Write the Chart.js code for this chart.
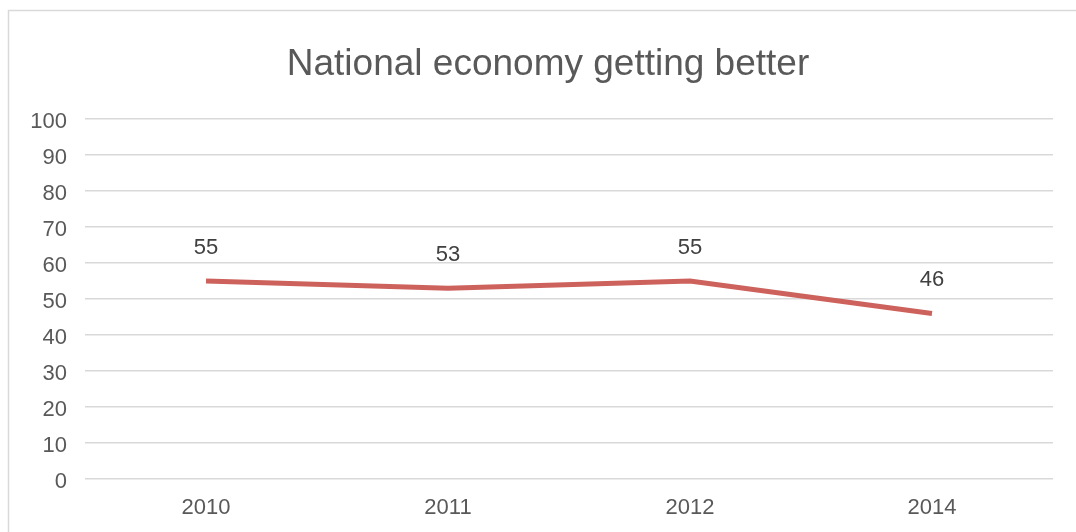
<!DOCTYPE html>
<html>
<head>
<meta charset="utf-8">
<title>National economy getting better</title>
<script src="https://cdn.jsdelivr.net/npm/chart.js@4/dist/chart.umd.min.js"></script>
<style>
  html, body { margin: 0; padding: 0; background: #ffffff; }
  #wrap { width: 1076px; height: 532px; position: relative; overflow: hidden; }
  canvas { display: block; }
</style>
</head>
<body>
<div id="wrap"><canvas id="chart" width="1076" height="532"></canvas></div>
<script>
// Survey years and share saying the national economy is getting better (%)
const years = ['2010', '2011', '2012', '2014'];
const betterShare = [55, 53, 55, 46];
const yTicks = [0, 10, 20, 30, 40, 50, 60, 70, 80, 90, 100];

const chartTitle = 'National economy getting better';
const FONT = '"Liberation Sans", Arial, sans-serif';

// Outer frame plus centred title
const frameAndTitle = {
  id: 'frameAndTitle',
  beforeDraw(chart) {
    const ctx = chart.ctx;
    ctx.save();
    ctx.fillStyle = '#ffffff';
    ctx.fillRect(0, 0, chart.width, chart.height);
    ctx.strokeStyle = '#d9d9d9';
    ctx.lineWidth = 1.5;
    ctx.strokeRect(8.5, 10.5, 1080, 540);
    ctx.fillStyle = '#595959';
    ctx.font = '37px ' + FONT;
    ctx.textAlign = 'center';
    ctx.textBaseline = 'alphabetic';
    ctx.fillText(chartTitle, 548, 75);
    ctx.restore();
  }
};

// Value labels above each point
const pointLabels = {
  id: 'pointLabels',
  afterDatasetsDraw(chart) {
    const ctx = chart.ctx;
    const meta = chart.getDatasetMeta(0);
    const data = chart.data.datasets[0].data;
    ctx.save();
    ctx.fillStyle = '#404040';
    ctx.font = '22px ' + FONT;
    ctx.textAlign = 'center';
    ctx.textBaseline = 'middle';
    meta.data.forEach((pt, i) => {
      ctx.fillText(String(data[i]), pt.x, pt.y - 33);
    });
    ctx.restore();
  }
};

new Chart(document.getElementById('chart'), {
  type: 'line',
  data: {
    labels: years,
    datasets: [{
      data: betterShare,
      borderColor: '#cd625c',
      borderWidth: 5,
      pointRadius: 0,
      pointHoverRadius: 0,
      tension: 0,
      fill: false,
      borderCapStyle: 'butt',
      borderJoinStyle: 'miter'
    }]
  },
  options: {
    responsive: false,
    animation: false,
    events: [],
    layout: { padding: { top: 119, right: 23, left: 0, bottom: 0 } },
    plugins: {
      legend: { display: false },
      title: { display: false },
      tooltip: { enabled: false }
    },
    scales: {
      x: {
        offset: true,
        grid: { display: false, drawTicks: false },
        border: { display: false },
        ticks: { color: '#595959', font: { family: FONT, size: 22 }, padding: 16, maxRotation: 0 },
        afterFit(scale) { scale.height = 53; }
      },
      y: {
        min: 0,
        max: 100,
        afterBuildTicks(scale) { scale.ticks = yTicks.map(v => ({ value: v })); },
        grid: { color: '#d9d9d9', lineWidth: 1.5, drawTicks: false },
        border: { display: false },
        ticks: { color: '#595959', font: { family: FONT, size: 22 }, padding: 18, labelOffset: 3 },
        afterFit(scale) { scale.width = 85; }
      }
    }
  },
  plugins: [frameAndTitle, pointLabels]
});
</script>
</body>
</html>
